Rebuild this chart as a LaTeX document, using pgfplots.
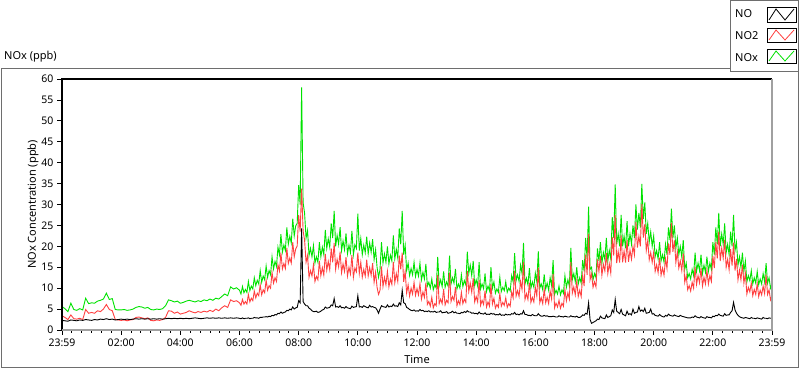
\documentclass[border=0pt]{standalone}
\usepackage{fontspec}
\setmainfont{Noto Sans}
\usepackage{pgfplots}
\usepackage{pgfplotstable}
\pgfplotsset{compat=1.18}
\definecolor{noxgreen}{RGB}{0,226,0}
\definecolor{no2red}{RGB}{255,64,64}
\definecolor{framegray}{RGB}{110,110,110}
\definecolor{edgegray}{RGB}{160,160,160}

\pgfplotstableread{
h NO NO2 NOx
0.0 2.3 3.4 5.6
0.1 2.2 3.0 5.1
0.2 2.1 2.5 4.4
0.3 2.4 3.6 6.4
0.4 2.3 2.7 4.9
0.5 2.2 2.6 4.7
0.6 2.4 2.8 5.1
0.7 2.3 2.5 4.8
0.8 2.5 4.9 7.6
0.9 2.4 4.0 6.3
1.0 2.3 4.2 6.5
1.1 2.5 4.0 6.4
1.2 2.4 4.6 6.9
1.3 2.6 4.4 7.1
1.4 2.5 5.0 7.4
1.5 2.7 6.1 8.8
1.6 2.5 4.9 7.3
1.7 2.6 4.6 7.5
1.8 2.4 2.5 4.9
1.9 2.5 2.4 4.8
2.0 2.6 2.3 4.8
2.1 2.5 2.4 4.9
2.2 2.6 2.2 4.7
2.3 2.5 2.4 4.8
2.4 2.6 2.5 5.0
2.5 2.7 3.0 5.4
2.6 2.6 3.1 5.6
2.7 2.7 2.9 5.5
2.8 2.6 2.7 5.2
2.9 2.7 2.9 5.4
3.0 2.6 2.3 4.9
3.1 2.7 2.2 4.8
3.2 2.6 2.4 5.0
3.3 2.7 2.3 4.9
3.4 2.6 2.5 5.1
3.5 2.7 3.0 5.8
3.6 2.8 4.6 7.2
3.7 2.7 4.5 7.0
3.8 2.8 4.0 6.7
3.9 2.7 4.3 6.9
4.0 2.8 3.8 6.4
4.1 2.7 4.0 6.6
4.2 2.8 4.2 6.9
4.3 2.7 4.6 7.1
4.4 2.8 4.3 6.9
4.5 2.9 4.1 6.7
4.6 2.8 4.4 7.0
4.7 2.7 4.2 6.8
4.8 2.8 4.5 7.2
4.9 2.9 4.3 7.0
5.0 2.8 4.7 7.4
5.1 2.9 4.4 7.1
5.2 2.8 5.0 7.6
5.3 2.9 4.6 7.4
5.4 2.8 5.3 8.0
5.5 2.9 5.8 8.6
5.6 2.8 5.4 8.2
5.7 2.9 7.2 10.3
5.8 2.8 6.8 9.8
5.9 2.9 7.0 10.1
6.0 2.8 6.5 9.5
6.05 2.7 5.9 8.6
6.1 2.9 7.3 10.4
6.15 2.7 6.2 8.9
6.2 2.8 6.8 9.7
6.25 2.8 6.2 9.0
6.3 2.9 8.5 11.6
6.35 2.7 6.7 9.4
6.4 2.8 7.6 10.5
6.45 2.8 7.0 9.8
6.5 3.0 9.3 12.5
6.55 2.9 7.7 10.6
6.6 2.9 8.8 11.9
6.65 2.8 8.2 11.0
6.7 3.0 10.8 14.2
6.75 3.0 8.4 11.4
6.8 3.1 9.6 12.9
6.85 3.1 8.9 12.0
6.9 3.2 11.9 15.3
6.95 3.1 9.5 12.6
7.0 3.3 10.6 14.2
7.05 3.2 10.0 13.2
7.1 3.5 13.8 17.5
7.15 3.4 11.2 14.6
7.2 3.7 12.5 16.4
7.25 3.6 11.6 15.2
7.3 4.0 15.6 19.8
7.35 3.9 14.1 18.0
7.4 4.3 18.5 22.9
7.45 4.0 14.6 18.6
7.5 4.2 15.9 20.3
7.55 4.3 14.7 19.0
7.6 4.7 19.6 24.5
7.65 4.6 15.9 20.5
7.7 5.0 17.2 22.4
7.75 4.8 16.0 20.8
7.8 5.5 21.0 26.6
7.85 5.0 17.5 22.5
7.9 5.3 19.4 24.9
7.95 5.4 20.1 25.5
8.0 7.0 27.5 34.6
8.05 6.5 23.5 30.0
8.1 24.3 33.8 58.0
8.15 6.8 23.7 30.5
8.2 6.2 21.5 27.9
8.25 5.8 16.2 22.0
8.3 5.8 17.8 23.8
8.35 5.2 12.6 17.8
8.4 5.0 14.2 19.5
8.45 4.6 12.9 17.5
8.5 4.4 15.6 20.2
8.55 4.4 11.6 16.0
8.6 4.5 12.8 17.5
8.65 4.2 12.0 16.2
8.7 4.3 16.5 21.0
8.75 4.5 13.0 17.5
8.8 4.8 14.9 19.8
8.85 4.9 13.1 18.0
8.9 5.5 18.2 23.9
8.95 5.2 14.3 19.5
9.0 5.3 16.4 21.8
9.05 5.4 14.4 19.8
9.1 6.0 19.5 25.5
9.15 5.8 16.2 22.0
9.2 7.5 20.8 28.5
9.25 5.5 14.5 20.0
9.3 5.6 16.9 22.6
9.35 5.4 15.1 20.5
9.4 5.8 18.7 24.6
9.45 5.3 13.7 19.0
9.5 5.4 15.8 21.3
9.55 5.2 14.0 19.2
9.6 5.6 17.4 23.1
9.65 5.3 12.9 18.2
9.7 5.2 15.0 20.3
9.75 5.1 13.4 18.5
9.8 5.7 17.9 23.7
9.85 5.4 12.6 18.0
9.9 5.5 14.8 20.4
9.95 5.6 13.9 19.5
10.0 8.2 18.5 27.8
10.05 5.5 13.5 19.0
10.1 5.6 16.2 21.9
10.15 5.4 12.6 18.0
10.2 5.8 14.5 20.3
10.25 5.6 12.9 18.5
10.3 5.4 16.8 22.3
10.35 5.3 12.9 18.2
10.4 5.9 14.9 20.8
10.45 5.5 13.1 18.6
10.5 5.6 16.0 21.7
10.55 5.4 11.4 16.8
10.6 5.3 13.8 19.2
10.65 4.8 10.2 15.0
10.7 4.0 8.5 12.6
10.75 5.0 9.5 14.5
10.8 5.8 15.2 21.0
10.85 5.6 10.4 16.0
10.9 5.5 12.6 18.2
10.95 5.4 10.8 16.2
11.0 6.0 14.0 20.0
11.05 5.5 10.3 15.8
11.1 5.7 12.2 17.9
11.15 5.6 10.9 16.5
11.2 6.2 16.3 22.6
11.25 5.7 11.3 17.0
11.3 5.8 13.5 19.3
11.35 5.6 11.6 17.2
11.4 6.5 17.8 24.3
11.45 6.0 14.5 20.5
11.5 9.5 18.5 28.5
11.55 6.5 11.5 18.0
11.6 6.3 14.0 20.3
11.65 5.4 8.8 14.2
11.7 5.2 10.8 16.0
11.75 4.9 8.1 13.0
11.8 4.7 10.0 14.7
11.85 4.6 8.6 13.2
11.9 4.8 11.4 16.2
11.95 4.5 8.3 12.8
12.0 4.6 9.9 14.5
12.05 4.5 8.4 12.9
12.1 4.9 11.1 16.0
12.15 4.6 7.4 12.0
12.2 4.7 9.1 13.8
12.25 4.4 7.8 12.2
12.3 4.5 11.3 15.8
12.35 4.4 6.1 10.5
12.4 4.6 6.8 11.4
12.45 4.3 5.7 10.0
12.5 4.4 7.8 12.2
12.55 4.3 5.3 9.6
12.6 4.5 6.3 10.8
12.65 4.2 5.8 10.0
12.7 4.3 13.2 17.5
12.75 4.3 6.3 10.6
12.8 4.6 7.4 12.0
12.85 4.1 6.3 10.4
12.9 4.2 9.8 14.0
12.95 4.2 6.0 10.2
13.0 4.4 7.1 11.5
13.05 4.0 6.5 10.5
13.1 4.1 13.7 17.8
13.15 4.2 6.8 11.0
13.2 4.5 8.0 12.5
13.25 4.1 7.1 11.2
13.3 4.3 10.3 14.6
13.35 4.0 5.8 9.8
13.4 4.0 7.0 11.0
13.45 3.9 6.1 10.0
13.5 4.2 9.0 13.2
13.55 4.1 6.3 10.4
13.6 4.4 7.4 11.8
13.65 4.2 6.6 10.8
13.7 4.6 14.1 18.7
13.75 4.3 9.2 13.5
13.8 4.3 11.2 15.5
13.85 4.0 9.0 13.0
13.9 4.1 12.4 16.5
13.95 3.9 6.7 10.6
14.0 4.0 8.0 12.0
14.05 3.8 6.7 10.5
14.1 4.3 11.9 16.2
14.15 3.9 5.9 9.8
14.2 3.9 7.1 11.0
14.25 3.8 6.1 9.9
14.3 4.1 9.4 13.5
14.35 3.7 5.5 9.2
14.4 3.8 6.7 10.5
14.45 3.7 5.7 9.4
14.5 4.0 11.0 15.0
14.55 3.8 6.2 10.0
14.6 3.9 7.6 11.5
14.65 3.6 5.2 8.8
14.7 3.7 6.1 9.8
14.75 3.6 5.4 9.0
14.8 3.9 8.7 12.6
14.85 3.5 5.7 9.2
14.9 3.6 6.6 10.2
14.95 3.5 5.9 9.4
15.0 3.8 7.7 11.5
15.05 3.6 5.4 9.0
15.1 3.7 6.3 10.0
15.15 3.6 5.7 9.3
15.2 3.9 9.1 13.0
15.25 3.8 7.7 11.5
15.3 4.2 14.2 18.4
15.35 3.7 8.1 11.8
15.4 3.8 9.4 13.2
15.45 3.6 8.0 11.6
15.5 3.9 11.6 15.5
15.55 3.8 9.7 13.5
15.6 4.6 16.2 20.8
15.65 3.7 7.3 11.0
15.7 3.7 8.7 12.4
15.75 3.5 7.3 10.8
15.8 3.5 11.3 14.8
15.85 3.4 6.6 10.0
15.9 3.7 7.8 11.5
15.95 3.5 6.7 10.2
16.0 3.4 10.2 13.6
16.05 3.4 8.1 11.5
16.1 3.9 14.9 18.8
16.15 3.5 6.5 10.0
16.2 3.3 7.7 11.0
16.25 3.3 6.3 9.6
16.3 3.5 9.8 13.3
16.35 3.3 6.5 9.8
16.4 3.4 7.8 11.2
16.45 3.2 6.3 9.5
16.5 3.2 9.3 12.5
16.55 3.2 7.4 10.6
16.6 3.3 13.4 16.7
16.65 3.2 5.3 8.5
16.7 3.1 6.4 9.5
16.75 3.1 5.5 8.6
16.8 3.4 7.1 10.5
16.85 3.2 5.2 8.4
16.9 3.2 6.4 9.6
16.95 3.1 5.7 8.8
17.0 3.3 9.7 13.0
17.05 3.2 7.0 10.2
17.1 3.1 8.9 12.0
17.15 3.1 7.4 10.5
17.2 3.4 16.2 19.6
17.25 3.2 8.8 12.0
17.3 3.2 10.3 13.5
17.35 3.1 8.4 11.5
17.4 3.3 11.7 15.0
17.45 3.0 8.0 11.0
17.5 3.0 9.5 12.5
17.55 3.2 8.0 11.2
17.6 3.6 13.1 16.7
17.65 3.5 10.5 14.0
17.7 4.0 18.0 22.0
17.75 3.8 13.2 17.0
17.8 6.5 23.0 29.5
17.85 2.5 12.0 14.5
17.9 1.6 13.4 15.0
17.95 1.8 10.2 12.0
18.0 2.0 11.5 13.5
18.05 2.2 10.3 12.5
18.1 2.6 16.9 19.5
18.15 2.5 14.0 16.5
18.2 3.3 17.7 21.0
18.25 2.9 13.1 16.0
18.3 2.8 15.7 18.5
18.35 2.7 14.1 16.8
18.4 3.6 18.4 22.0
18.45 3.0 13.5 16.5
18.5 3.2 15.8 19.0
18.55 3.4 13.6 17.0
18.6 4.8 22.2 27.0
18.65 4.2 17.8 22.0
18.7 7.3 27.5 34.8
18.75 4.5 16.0 20.5
18.8 4.2 18.8 23.0
18.85 3.9 16.1 20.0
18.9 4.9 22.6 27.5
18.95 3.8 16.2 20.0
19.0 3.6 18.9 22.5
19.05 3.4 16.1 19.5
19.1 4.5 21.5 26.0
19.15 3.7 16.3 20.0
19.2 3.9 19.1 23.0
19.25 3.6 16.9 20.5
19.3 5.0 20.0 25.0
19.35 4.0 18.0 22.0
19.4 4.2 25.8 30.0
19.45 4.3 19.7 24.0
19.5 5.6 22.4 28.0
19.55 4.5 20.0 24.5
19.6 4.8 30.1 34.9
19.65 4.4 22.1 26.5
19.7 5.2 25.3 30.5
19.75 4.0 19.0 23.0
19.8 4.1 21.4 25.5
19.85 4.2 16.8 21.0
19.9 5.0 18.5 23.5
19.95 3.8 16.2 20.0
20.0 3.9 18.6 22.5
20.05 3.5 14.0 17.5
20.1 3.4 15.6 19.0
20.15 3.3 13.7 17.0
20.2 3.7 17.3 21.0
20.25 3.4 13.1 16.5
20.3 3.2 14.8 18.0
20.35 3.1 13.1 16.2
20.4 3.5 17.0 20.5
20.45 3.3 14.7 18.0
20.5 3.8 20.7 24.5
20.55 3.5 18.0 21.5
20.6 3.4 25.6 29.0
20.65 3.3 18.7 22.0
20.7 3.6 21.4 25.0
20.75 3.4 16.1 19.5
20.8 3.3 18.7 22.0
20.85 3.2 14.8 18.0
20.9 3.5 16.5 20.0
20.95 3.3 14.2 17.5
21.0 3.2 18.3 21.5
21.05 3.1 11.4 14.5
21.1 3.0 13.0 16.0
21.15 2.9 9.6 12.5
21.2 2.9 10.6 13.5
21.25 2.9 9.3 12.2
21.3 3.1 11.4 14.5
21.35 3.0 10.0 13.0
21.4 3.4 15.1 18.5
21.45 3.1 10.9 14.0
21.5 3.0 13.0 16.0
21.55 2.9 11.3 14.2
21.6 3.2 14.8 18.0
21.65 3.0 10.5 13.5
21.7 2.9 12.6 15.5
21.75 2.8 11.0 13.8
21.8 3.2 14.3 17.5
21.85 3.0 11.0 14.0
21.9 3.0 13.0 16.0
21.95 2.9 11.6 14.5
22.0 3.3 17.7 21.0
22.05 3.2 14.8 18.0
22.1 3.5 21.0 24.5
22.15 3.4 17.1 20.5
22.2 3.8 23.5 28.0
22.25 3.5 16.5 20.0
22.3 3.4 19.6 23.0
22.35 3.3 17.2 20.5
22.4 3.9 21.6 25.5
22.45 3.5 15.0 18.5
22.5 3.6 16.9 20.5
22.55 3.6 14.4 18.0
22.6 4.2 19.3 23.5
22.65 4.6 15.4 20.0
22.7 6.6 20.9 27.5
22.75 4.8 14.2 19.0
22.8 4.0 17.0 21.0
22.85 3.5 12.0 15.5
22.9 3.2 14.3 17.5
22.95 3.0 12.0 15.0
23.0 2.9 15.6 18.5
23.05 2.8 11.2 14.0
23.1 3.0 13.5 16.5
23.15 2.9 8.6 11.5
23.2 2.8 10.2 13.0
23.25 2.7 9.1 11.8
23.3 3.0 11.2 14.2
23.35 2.8 8.2 11.0
23.4 2.8 9.7 12.5
23.45 2.7 8.5 11.2
23.5 2.9 11.1 14.0
23.55 2.8 8.0 10.8
23.6 2.7 9.5 12.2
23.65 2.6 8.4 11.0
23.7 3.0 10.5 13.5
23.75 2.8 8.7 11.5
23.8 2.8 13.2 16.0
23.85 2.7 8.5 11.2
23.9 2.9 9.6 12.5
23.95 2.8 7.2 10.0
24.0 2.8 8.2 11.0
}\datatable

\begin{document}
\begin{tikzpicture}[x=1pt,y=1pt,font=\fontsize{11}{13}\selectfont]
\useasboundingbox (0,0) rectangle (800,369);
% outer panel frame
\draw[framegray, line width=1pt] (730,300) -- (1,300) -- (1,1.5) -- (798.5,1.5) -- (798.5,297);
\node[anchor=west, inner sep=0pt] at (4,312) {NOx (ppb)};
% legend
\draw[framegray, line width=1pt, fill=white] (730,297) rectangle (798.5,368.5);
\node[anchor=west, inner sep=0pt] at (735,355) {NO};
\node[anchor=west, inner sep=0pt] at (735,333) {NO2};
\node[anchor=west, inner sep=0pt] at (735,311) {NOx};
\draw[black, line width=0.8pt] (767,347) rectangle (796,362);
\draw[black, line width=0.8pt] (769,349) -- (776,360) -- (785,349) -- (794,360);
\draw[black, line width=0.8pt] (767,327) rectangle (796,341);
\draw[no2red, line width=0.8pt] (769,329) -- (776,339) -- (785,329) -- (794,339);
\draw[black, line width=0.8pt] (767,306) rectangle (796,320);
\draw[noxgreen, line width=0.8pt] (769,308) -- (776,318) -- (785,308) -- (794,318);
\begin{axis}[
  at={(62pt,39pt)}, anchor=south west,
  width=710pt, height=251pt, scale only axis,
  xmin=0, xmax=24, ymin=0, ymax=60,
  xtick={0,2,...,24},
  xticklabels={23:59,02:00,04:00,06:00,08:00,10:00,12:00,14:00,16:00,18:00,20:00,22:00,23:59},
  minor x tick num=5,
  ytick={0,5,...,60},
  tick align=outside, tick pos=left,
  major tick length=5pt, minor tick length=3pt,
  tick style={black, line width=0.8pt},
  axis line style={draw=none},
  ticklabel style={font=\fontsize{10.5}{12}\selectfont},
  /pgf/number format/assume math mode=true,
  xlabel={Time}, ylabel={NOx Concentration (ppb)},
  label style={font=\fontsize{11}{13}\selectfont},
  xlabel style={at={(rel axis cs:0.5,0)}, anchor=center, yshift=-30pt},
  ylabel style={at={(rel axis cs:0,0.5)}, anchor=center, rotate=0, yshift=29pt},
  clip=false,
  no markers,
]
\addplot[noxgreen, line width=0.9pt] table[x=h, y=NOx] {\datatable};
\addplot[no2red, line width=0.9pt] table[x=h, y=NO2] {\datatable};
\addplot[black, line width=0.9pt] table[x=h, y=NO] {\datatable};
\draw[black, line width=1.2pt] (rel axis cs:0,0) -- (rel axis cs:0,1) -- (rel axis cs:1,1);
\draw[edgegray, line width=1.2pt] (rel axis cs:1,1) -- (rel axis cs:1,0) -- (rel axis cs:0,0);
\end{axis}
\end{tikzpicture}
\end{document}
